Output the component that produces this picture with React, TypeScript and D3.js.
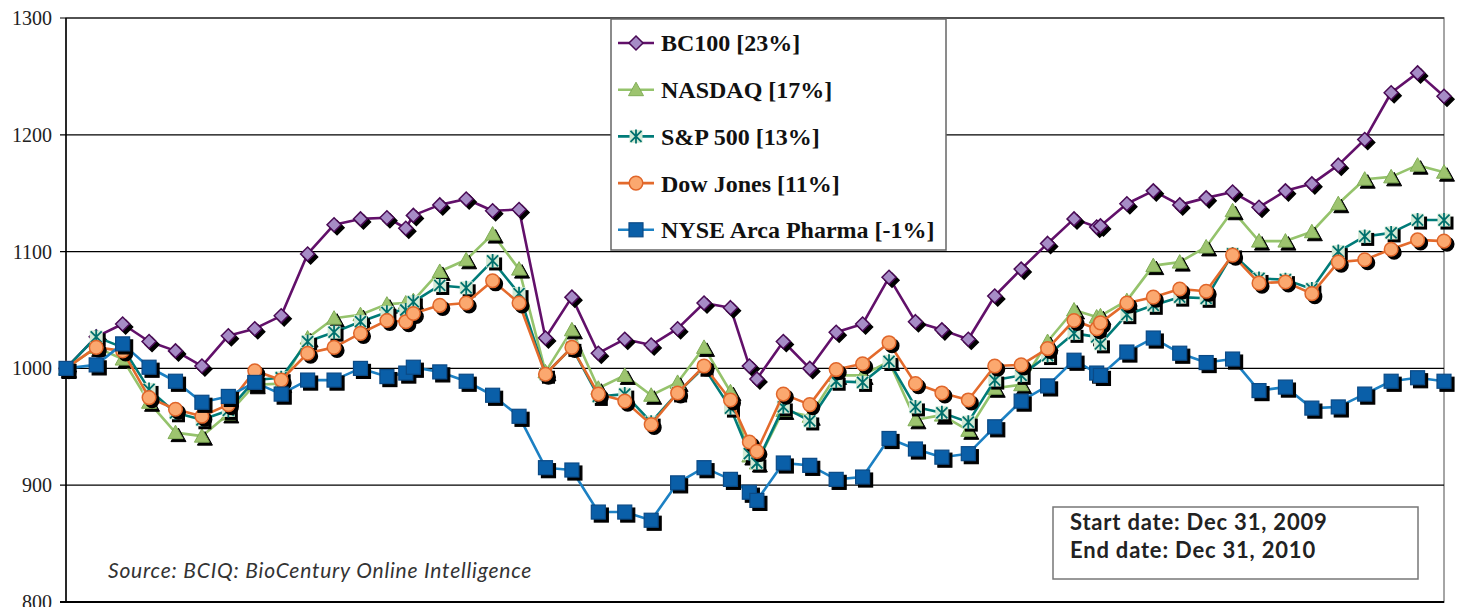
import React from 'react';
import { scaleLinear, scaleTime, timeParse, line } from 'd3';

const dates = [
  '2009-12-31', '2010-01-08', '2010-01-15', '2010-01-22', '2010-01-29', '2010-02-05', '2010-02-12',
  '2010-02-19', '2010-02-26', '2010-03-05', '2010-03-12', '2010-03-19', '2010-03-26', '2010-03-31',
  '2010-04-02', '2010-04-09', '2010-04-16', '2010-04-23', '2010-04-30', '2010-05-07', '2010-05-14',
  '2010-05-21', '2010-05-28', '2010-06-04', '2010-06-11', '2010-06-18', '2010-06-25', '2010-06-30',
  '2010-07-02', '2010-07-09', '2010-07-16', '2010-07-23', '2010-07-30', '2010-08-06', '2010-08-13',
  '2010-08-20', '2010-08-27', '2010-09-03', '2010-09-10', '2010-09-17', '2010-09-24', '2010-09-30',
  '2010-10-01', '2010-10-08', '2010-10-15', '2010-10-22', '2010-10-29', '2010-11-05', '2010-11-12',
  '2010-11-19', '2010-11-26', '2010-12-03', '2010-12-10', '2010-12-17', '2010-12-24', '2010-12-31',
];

const bc100 = [1000, 1027, 1038, 1023, 1015, 1002, 1028, 1034, 1045, 1098, 1123, 1128, 1129, 1120, 1131, 1140, 1145, 1135, 1136, 1026, 1061, 1013, 1025, 1020, 1034, 1056, 1052, 1002, 991, 1023, 1000, 1031, 1038, 1078, 1040, 1033, 1025, 1062, 1085, 1107, 1128, 1121, 1122, 1141, 1152, 1140, 1146, 1151, 1138, 1152, 1158, 1174, 1196, 1236, 1253, 1233];
const nasdaq = [1000, 1018, 1008, 971, 945, 942, 961, 986, 987, 1026, 1043, 1046, 1055, 1056, 1058, 1083, 1093, 1115, 1085, 997, 1033, 983, 994, 977, 988, 1018, 980, 925, 919, 964, 959, 994, 994, 1006, 956, 960, 947, 983, 986, 1023, 1050, 1044, 1045, 1058, 1088, 1091, 1104, 1135, 1109, 1109, 1117, 1141, 1162, 1164, 1174, 1168];
const sp500 = [1000, 1027, 1018, 982, 962, 956, 964, 990, 992, 1023, 1031, 1040, 1048, 1050, 1057, 1071, 1069, 1092, 1064, 995, 1018, 976, 978, 954, 979, 1001, 966, 927, 919, 967, 955, 989, 988, 1006, 967, 962, 954, 990, 994, 1011, 1030, 1027, 1021, 1046, 1054, 1061, 1060, 1098, 1077, 1076, 1068, 1100, 1113, 1116, 1127, 1127];
const dow = [1000, 1018, 1015, 975, 965, 959, 969, 998, 990, 1013, 1018, 1030, 1041, 1040, 1047, 1054, 1056, 1075, 1056, 995, 1018, 978, 972, 952, 979, 1002, 973, 937, 929, 978, 969, 999, 1004, 1022, 987, 979, 973, 1002, 1003, 1017, 1041, 1034, 1039, 1056, 1061, 1068, 1066, 1097, 1073, 1074, 1064, 1091, 1093, 1102, 1110, 1109];
const nyse = [1000, 1003, 1021, 1001, 989, 971, 976, 988, 978, 990, 990, 1000, 993, 996, 1001, 997, 989, 977, 959, 915, 913, 877, 877, 870, 902, 915, 905, 894, 887, 919, 917, 905, 907, 940, 931, 924, 927, 950, 972, 985, 1007, 996, 994, 1014, 1026, 1013, 1005, 1008, 981, 984, 966, 967, 978, 989, 992, 989];

const yTicks = [800, 900, 1000, 1100, 1200, 1300];

type Marker = 'diamond' | 'triangle' | 'star' | 'circle' | 'square';

const series: { name: string; values: number[]; line: string; fill: string; stroke: string; marker: Marker }[] = [
  { name: 'BC100 [23%]', values: bc100, line: '#62106a', fill: '#a68cc6', stroke: '#4a0a55', marker: 'diamond' },
  { name: 'NASDAQ [17%]', values: nasdaq, line: '#95c36c', fill: '#9dc46f', stroke: '#80ad57', marker: 'triangle' },
  { name: 'S&P 500 [13%]', values: sp500, line: '#007b78', fill: '#d4ead6', stroke: '#00706c', marker: 'star' },
  { name: 'Dow Jones [11%]', values: dow, line: '#e36a2c', fill: '#fba86f', stroke: '#e0662a', marker: 'circle' },
  { name: 'NYSE Arca Pharma [-1%]', values: nyse, line: '#1c80c3', fill: '#0a5fa8', stroke: '#0b4a86', marker: 'square' },
];

const W = 1457;
const H = 607;
const left = 66;
const right = 1444;
const top = 18;
const bottom = 602;

const parse = timeParse('%Y-%m-%d');
const xs = dates.map((d) => parse(d) as Date);

const x = scaleTime().domain([xs[0], xs[xs.length - 1]]).range([left, right]);
const y = scaleLinear().domain([800, 1300]).range([bottom, top]);

function MarkerShape({ type, fill, stroke, shadow }: { type: Marker; fill: string; stroke: string; shadow?: boolean }) {
  const f = shadow ? '#000' : fill;
  const s = shadow ? '#000' : stroke;
  if (type === 'diamond') return <path d="M0,-7L7,0L0,7L-7,0Z" fill={f} stroke={s} strokeWidth={1.5} />;
  if (type === 'triangle') return <path d="M0,-7.5L7.5,6L-7.5,6Z" fill={f} stroke={s} strokeWidth={1} />;
  if (type === 'circle') return <circle r={6.8} fill={f} stroke={s} strokeWidth={1.5} />;
  if (type === 'square') return <rect x={-7} y={-7} width={14} height={14} fill={f} stroke={s} strokeWidth={1.2} />;
  // star on a pale square
  if (shadow) return <rect x={-6.5} y={-6.5} width={13} height={13} fill="#000" />;
  return (
    <g>
      <rect x={-6.5} y={-6.5} width={13} height={13} fill={fill} />
      <path d="M-5.5,-5.5L5.5,5.5M5.5,-5.5L-5.5,5.5M0,-7L0,7" stroke={stroke} strokeWidth={1.8} fill="none" />
    </g>
  );
}

export default function App() {
  const gen = line<number>()
    .x((_, i) => x(xs[i]))
    .y((d) => y(d));

  return (
    <svg width={W} height={H} style={{ position: 'absolute', left: 0, top: 0, background: '#fff' }}>
      {/* plot border */}
      <rect x={left} y={top} width={right - left} height={bottom - top} fill="none" stroke="#888" strokeWidth={1.5} />
      {/* gridlines + ticks */}
      {yTicks.map((t) => (
        <g key={t}>
          <line x1={left - 6} x2={right} y1={y(t)} y2={y(t)} stroke="#000" strokeWidth={t === 800 ? 2 : 1.2} />
          <text x={52} y={y(t)} dy="0.35em" textAnchor="end" fontFamily="Liberation Serif, serif" fontSize={20} fill="#222">
            {t}
          </text>
        </g>
      ))}
      <line x1={left} x2={left} y1={top} y2={bottom} stroke="#000" strokeWidth={1.5} />

      {/* series */}
      {series.map((s) => (
        <g key={s.name}>
          <path d={gen(s.values) || ''} fill="none" stroke={s.line} strokeWidth={2.6} strokeLinejoin="round" />
          {s.values.map((v, i) => (
            <g key={'sh' + i} transform={`translate(${x(xs[i]) + 3},${y(v) + 3})`}>
              <MarkerShape type={s.marker} fill={s.fill} stroke={s.stroke} shadow />
            </g>
          ))}
          {s.values.map((v, i) => (
            <g key={i} transform={`translate(${x(xs[i])},${y(v)})`}>
              <MarkerShape type={s.marker} fill={s.fill} stroke={s.stroke} />
            </g>
          ))}
        </g>
      ))}

      {/* legend */}
      <rect x={611} y={19} width={335} height={231} fill="#fff" stroke="#666" strokeWidth={1.5} />
      {series.map((s, i) => {
        const cy = 43 + i * 46.7;
        return (
          <g key={'lg' + i}>
            <line x1={618} x2={654} y1={cy} y2={cy} stroke={s.line} strokeWidth={2.6} />
            <g transform={`translate(636,${cy})`}>
              <MarkerShape type={s.marker} fill={s.fill} stroke={s.stroke} />
            </g>
            <text x={661} y={cy} dy="0.35em" fontFamily="Liberation Serif, serif" fontWeight="bold" fontSize={24} fill="#111">
              {s.name}
            </text>
          </g>
        );
      })}

      {/* source */}
      <text x={108} y={578} fontFamily="Lato, sans-serif" fontStyle="italic" fontSize={21} letterSpacing={0.8} fill="#333">
        Source: BCIQ: BioCentury Online Intelligence
      </text>

      {/* date box */}
      <rect x={1053} y={507} width={365} height={72} fill="#fff" stroke="#777" strokeWidth={1.5} />
      <text x={1070} y={530} fontFamily="Lato, sans-serif" fontWeight="bold" fontSize={22} letterSpacing={0.8} fill="#222">
        Start date: Dec 31, 2009
      </text>
      <text x={1070} y={558} fontFamily="Lato, sans-serif" fontWeight="bold" fontSize={22} letterSpacing={0.8} fill="#222">
        End date: Dec 31, 2010
      </text>
    </svg>
  );
}
